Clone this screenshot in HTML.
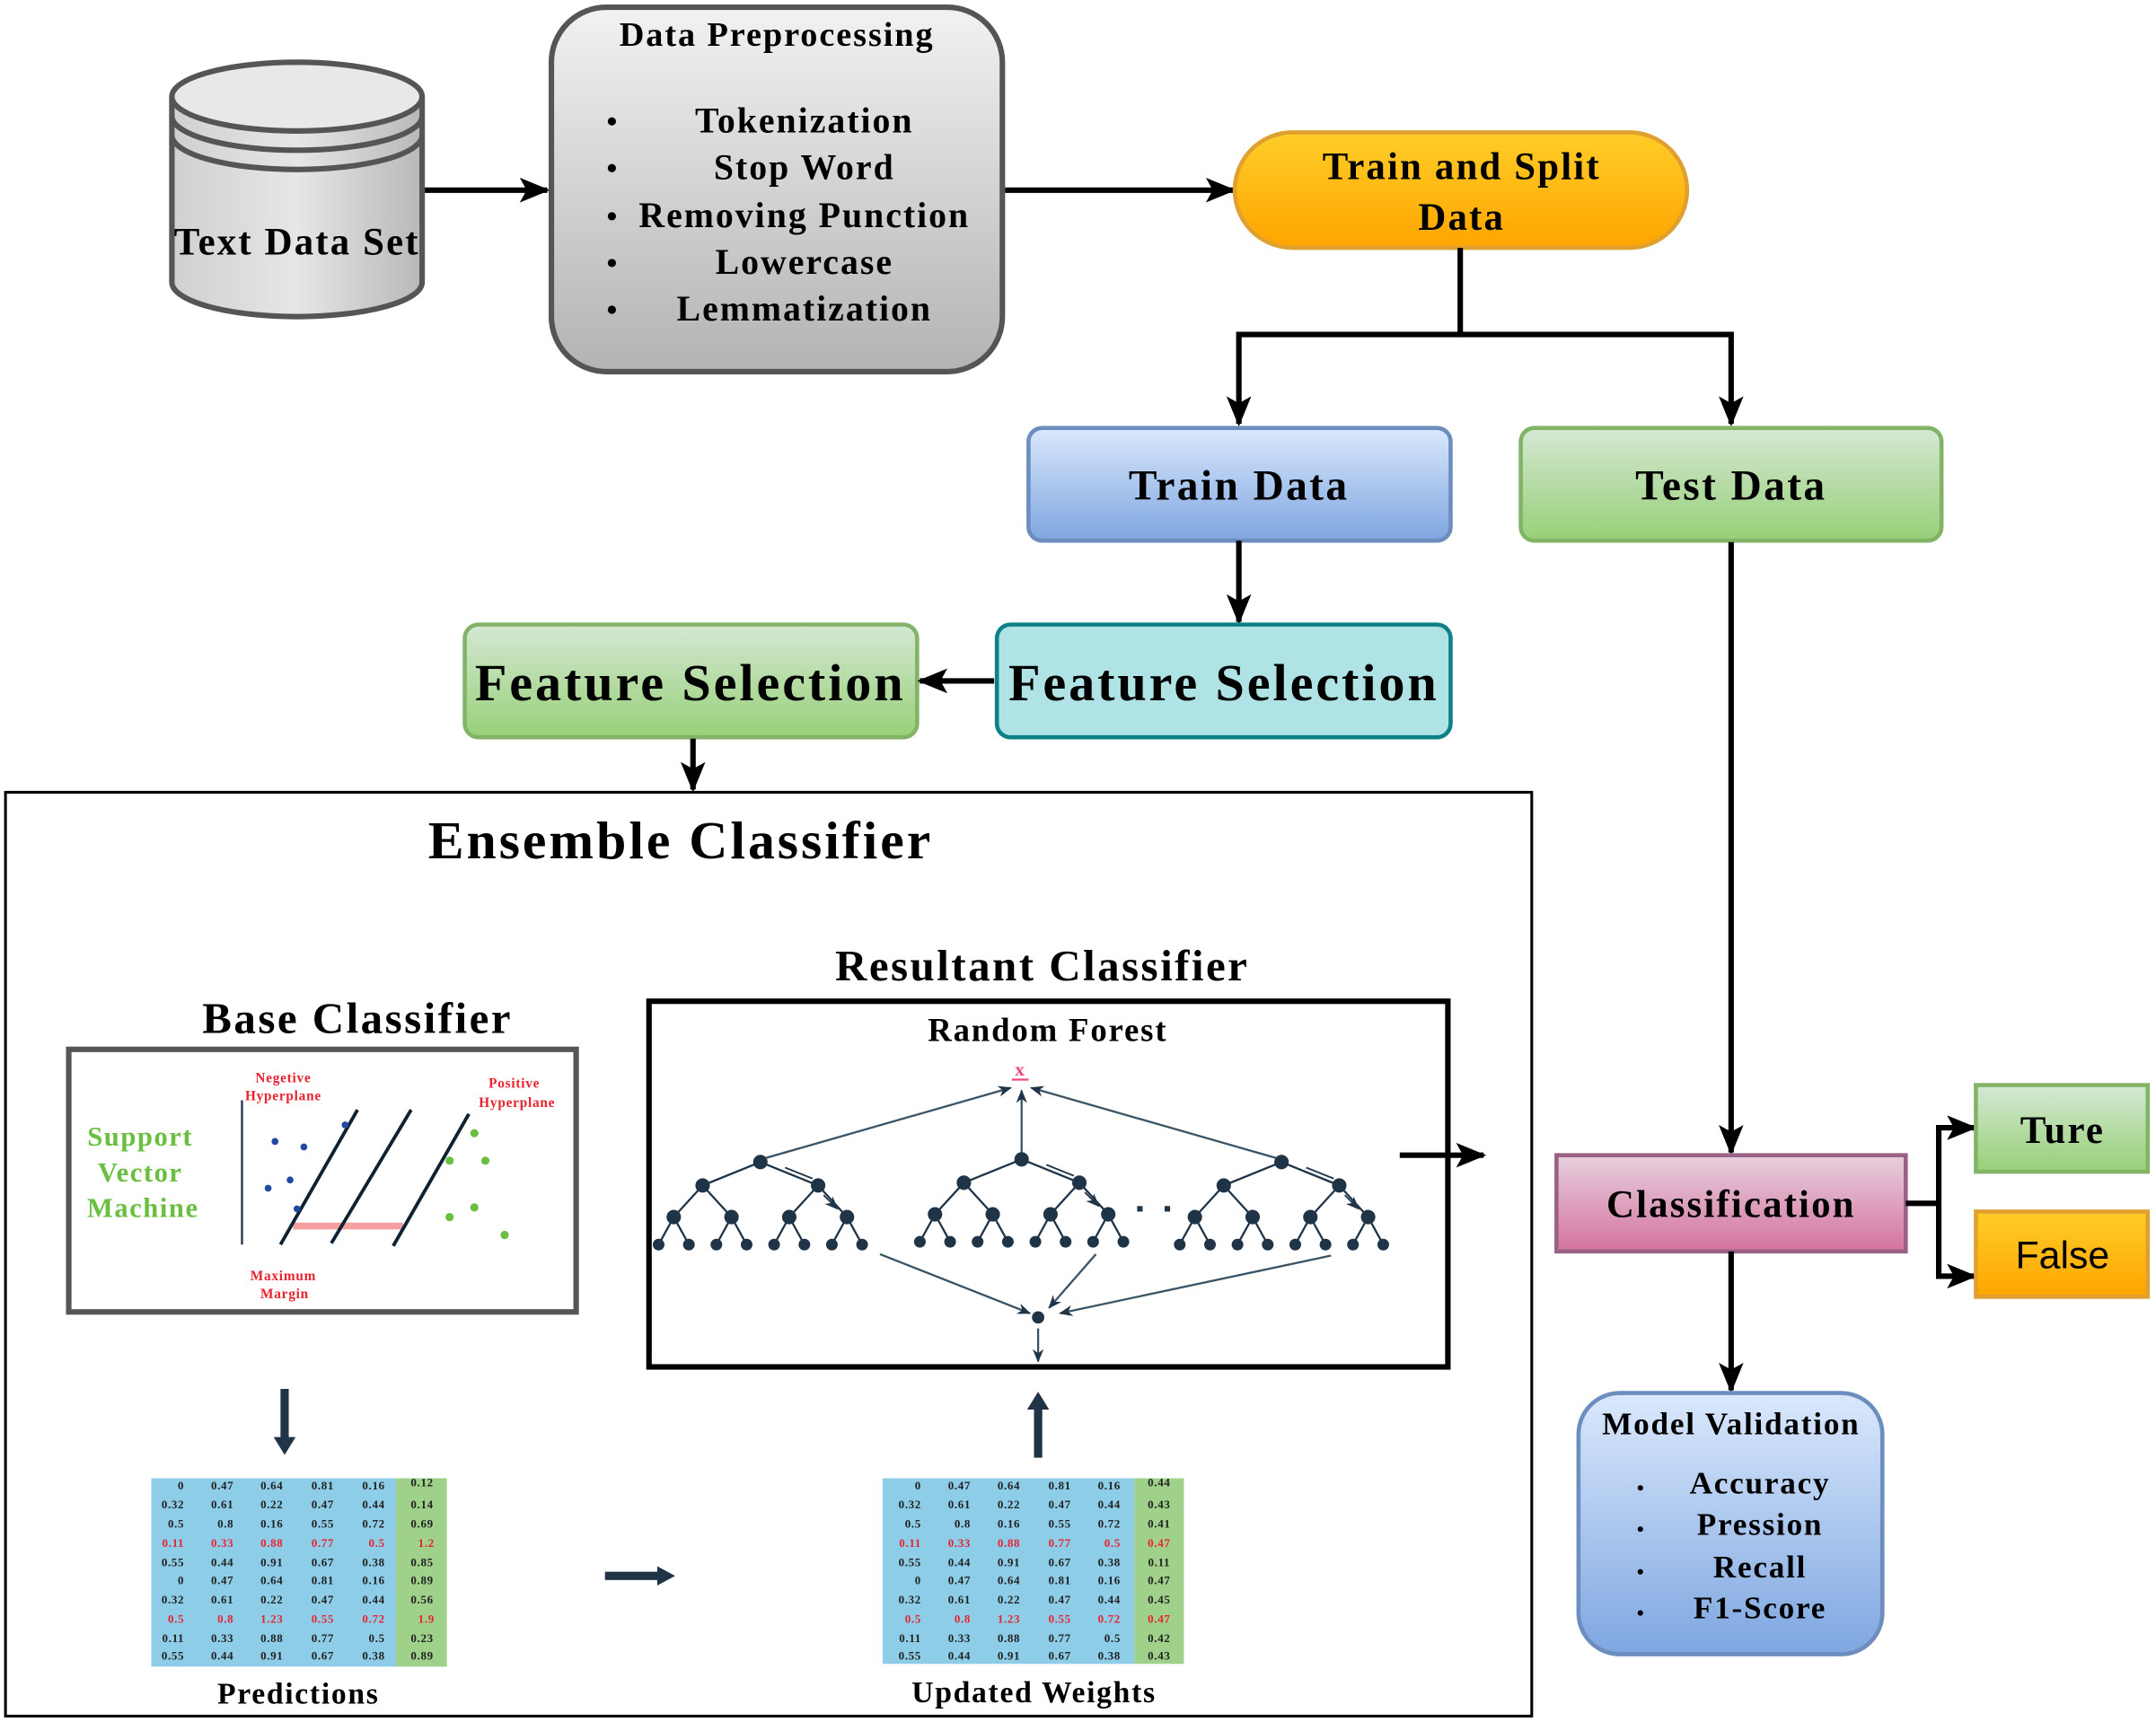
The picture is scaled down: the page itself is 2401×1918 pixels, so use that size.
<!DOCTYPE html>
<html><head><meta charset="utf-8"><style>
html,body{margin:0;padding:0;background:#fff}
svg{display:block}
text{font-family:"Liberation Serif",serif;font-weight:bold;letter-spacing:0.05em}
.t{font-family:"Liberation Sans",sans-serif;font-weight:normal;font-size:8.5px;text-anchor:end;fill:#222;letter-spacing:0}
.r{fill:#e8232f}
.c{text-anchor:middle}
</style></head><body>
<svg width="2401" height="1918" viewBox="0 0 1568 1252" xmlns="http://www.w3.org/2000/svg">
<defs>
<marker id="A" markerWidth="22" markerHeight="18" refX="20" refY="9" orient="auto" markerUnits="userSpaceOnUse"><path d="M0,0 L22,9 L0,18 L5,9 Z" fill="#000"/></marker>
<marker id="s" markerWidth="10" markerHeight="10" refX="9" refY="5" orient="auto" markerUnits="userSpaceOnUse"><path d="M0,1 L10,5 L0,9 L3,5 Z" fill="#1f3447"/></marker>
<linearGradient id="gray" x1="0" y1="0" x2="0" y2="1"><stop offset="0" stop-color="#f2f2f2"/><stop offset="1" stop-color="#b3b3b3"/></linearGradient>
<linearGradient id="cyl" x1="0" y1="0" x2="1" y2="0"><stop offset="0" stop-color="#d0d0d0"/><stop offset="0.5" stop-color="#e6e6e6"/><stop offset="1" stop-color="#b8b8b8"/></linearGradient>
<linearGradient id="org" x1="0" y1="0" x2="0" y2="1"><stop offset="0" stop-color="#ffcd28"/><stop offset="1" stop-color="#ffa500"/></linearGradient>
<linearGradient id="blue" x1="0" y1="0" x2="0" y2="1"><stop offset="0" stop-color="#dae8fc"/><stop offset="1" stop-color="#7ea6e0"/></linearGradient>
<linearGradient id="grn" x1="0" y1="0" x2="0" y2="1"><stop offset="0" stop-color="#d5e8d4"/><stop offset="1" stop-color="#97d077"/></linearGradient>
<linearGradient id="pink" x1="0" y1="0" x2="0" y2="1"><stop offset="0" stop-color="#e6d0de"/><stop offset="1" stop-color="#d5739d"/></linearGradient>
<g id="tree" stroke="#1f3447" stroke-width="1.5" fill="#1f3447">
<path d="M0,0 L-42,17 M0,0 L42,17 M-42,17 L-63,40 M-42,17 L-21,40 M42,17 L21,40 M42,17 L63,40 M-63,40 L-74,60 M-63,40 L-52,60 M-21,40 L-32,60 M-21,40 L-10,60 M21,40 L10,60 M21,40 L32,60 M63,40 L52,60 M63,40 L74,60" fill="none"/>
<circle r="4.5"/><circle cx="-42" cy="17" r="4.5"/><circle cx="42" cy="17" r="4.5"/>
<circle cx="-63" cy="40" r="4.5"/><circle cx="-21" cy="40" r="4.5"/><circle cx="21" cy="40" r="4.5"/><circle cx="63" cy="40" r="4.5"/>
<circle cx="-74" cy="60" r="3.5"/><circle cx="-52" cy="60" r="3.5"/><circle cx="-32" cy="60" r="3.5"/><circle cx="-10" cy="60" r="3.5"/><circle cx="10" cy="60" r="3.5"/><circle cx="32" cy="60" r="3.5"/><circle cx="52" cy="60" r="3.5"/><circle cx="74" cy="60" r="3.5"/>
<path d="M18,4 L38,12 M46,24 L56,34" fill="none" stroke-width="1.2" marker-end="url(#s)"/>
</g>
</defs>

<path d="M125,70 L125,205 A91,25 0 0 0 307,205 L307,70" fill="url(#cyl)" stroke="#555" stroke-width="4"/>
<ellipse cx="216" cy="70" rx="91" ry="25" fill="#e8e8e8" stroke="#555" stroke-width="4"/>
<path d="M125,84 A91,25 0 0 0 307,84 M125,98 A91,25 0 0 0 307,98" fill="none" stroke="#555" stroke-width="4"/>
<text x="216" y="185" font-size="28" text-anchor="middle">Text Data Set</text>
<line x1="309" y1="138" x2="398" y2="138" stroke="#000" stroke-width="4" marker-end="url(#A)"/>

<rect x="401" y="5" width="328" height="265" rx="40" fill="url(#gray)" stroke="#555" stroke-width="4"/>
<text x="565" y="33" font-size="25" text-anchor="middle">Data Preprocessing</text>
<g font-size="26" text-anchor="middle">
<text x="585" y="96">Tokenization</text><text x="585" y="130">Stop Word</text><text x="585" y="165">Removing Punction</text><text x="585" y="199">Lowercase</text><text x="585" y="233">Lemmatization</text>
</g>
<g fill="#000"><circle cx="445" cy="88" r="3"/><circle cx="445" cy="122" r="3"/><circle cx="445" cy="157" r="3"/><circle cx="445" cy="191" r="3"/><circle cx="445" cy="225" r="3"/></g>
<line x1="731" y1="138" x2="897" y2="138" stroke="#000" stroke-width="4" marker-end="url(#A)"/>

<rect x="898" y="96" width="329" height="84" rx="42" fill="url(#org)" stroke="#e0a030" stroke-width="3"/>
<text x="1063" y="130" font-size="28" text-anchor="middle">Train and Split</text>
<text x="1063" y="167" font-size="28" text-anchor="middle">Data</text>
<path d="M1062,180 L1062,243 M901,243 L1259,243" stroke="#000" stroke-width="4" fill="none"/>
<line x1="901" y1="241" x2="901" y2="308" stroke="#000" stroke-width="4" marker-end="url(#A)"/>
<line x1="1259" y1="241" x2="1259" y2="308" stroke="#000" stroke-width="4" marker-end="url(#A)"/>

<rect x="748" y="311" width="307" height="82" rx="10" fill="url(#blue)" stroke="#6c8ebf" stroke-width="3"/>
<text x="901" y="363" font-size="31" text-anchor="middle">Train Data</text>
<rect x="1106" y="311" width="306" height="82" rx="10" fill="url(#grn)" stroke="#82b366" stroke-width="3"/>
<text x="1259" y="363" font-size="31" text-anchor="middle">Test Data</text>

<line x1="901" y1="393" x2="901" y2="452" stroke="#000" stroke-width="4" marker-end="url(#A)"/>
<rect x="725" y="454" width="330" height="82" rx="10" fill="#b0e3e6" stroke="#0e8088" stroke-width="3"/>
<text x="890" y="509" font-size="38" text-anchor="middle">Feature Selection</text>
<rect x="338" y="454" width="329" height="82" rx="10" fill="url(#grn)" stroke="#82b366" stroke-width="3"/>
<text x="502" y="509" font-size="38" text-anchor="middle">Feature Selection</text>
<line x1="723" y1="495" x2="669" y2="495" stroke="#000" stroke-width="4" marker-end="url(#A)"/>
<line x1="504" y1="537" x2="504" y2="574" stroke="#000" stroke-width="4" marker-end="url(#A)"/>

<rect x="4" y="576" width="1110" height="672" fill="none" stroke="#000" stroke-width="2"/>
<text x="495" y="624" font-size="39" text-anchor="middle">Ensemble Classifier</text>
<text x="758" y="713" font-size="32" text-anchor="middle">Resultant Classifier</text>
<text x="260" y="751" font-size="32" text-anchor="middle">Base Classifier</text>

<rect x="50" y="763" width="369" height="191" fill="#fff" stroke="#555" stroke-width="4"/>
<g fill="#6abf40" font-size="20" text-anchor="middle"><text x="102" y="833">Support</text><text x="102" y="859">Vector</text><text x="104" y="885">Machine</text></g>
<g fill="#e8232f" font-size="10" text-anchor="middle"><text x="206" y="787">Negetive</text><text x="206" y="800">Hyperplane</text><text x="374" y="791">Positive</text><text x="376" y="805">Hyperplane</text><text x="206" y="931">Maximum</text><text x="207" y="944">Margin</text></g>
<line x1="176" y1="800" x2="176" y2="905" stroke="#1f3447" stroke-width="1.5"/>
<rect x="213" y="889" width="80" height="5" fill="#f4a0a0"/>
<path d="M204,905 L260,807 M241,904 L299,807 M286,906 L341,810" stroke="#0d2233" stroke-width="2.5" fill="none"/>
<g fill="#1f4aa0"><circle cx="200" cy="830" r="2.5"/><circle cx="221" cy="834" r="2.5"/><circle cx="211" cy="858" r="2.5"/><circle cx="195" cy="864" r="2.5"/><circle cx="216" cy="879" r="2.5"/><circle cx="251" cy="818" r="2.5"/></g>
<g fill="#6abf40"><circle cx="345" cy="824" r="3"/><circle cx="327" cy="844" r="3"/><circle cx="353" cy="844" r="3"/><circle cx="345" cy="878" r="3"/><circle cx="327" cy="885" r="3"/><circle cx="367" cy="898" r="3"/></g>

<rect x="472" y="728" width="581" height="266" fill="#fff" stroke="#000" stroke-width="4"/>
<text x="762" y="757" font-size="24" text-anchor="middle">Random Forest</text>
<text x="742" y="782" font-size="14" fill="#f04878" text-anchor="middle" font-family="Liberation Sans,sans-serif">x</text>
<line x1="736" y1="785" x2="748" y2="785" stroke="#f04878" stroke-width="1.5"/>
<use href="#tree" x="553" y="845"/>
<use href="#tree" x="743" y="843"/>
<use href="#tree" x="932" y="845"/>
<g fill="#1f3447"><rect x="827" y="877" width="4" height="4"/><rect x="847" y="877" width="4" height="4"/></g>
<g stroke="#3a5466" stroke-width="1.5" fill="none" marker-end="url(#s)">
<line x1="557" y1="842" x2="735" y2="791"/>
<line x1="743" y1="838" x2="743" y2="793"/>
<line x1="928" y1="842" x2="750" y2="791"/>
<line x1="640" y1="912" x2="749" y2="955"/>
<line x1="797" y1="912" x2="763" y2="951"/>
<line x1="968" y1="913" x2="771" y2="955"/>
<line x1="755" y1="966" x2="755" y2="990"/>
</g>
<circle cx="755" cy="958" r="4.5" fill="#1f3447"/>
<line x1="1018" y1="840" x2="1079" y2="840" stroke="#000" stroke-width="4" marker-end="url(#A)"/>

<g fill="#1f3447">
<path d="M204,1010 L210,1010 L210,1045 L215,1045 L207,1058 L199,1045 L204,1045 Z"/>
<path d="M440,1143 L478,1143 L478,1139 L491,1146 L478,1153 L478,1149 L440,1149 Z"/>
<path d="M752,1060 L758,1060 L758,1025 L763,1025 L755,1012 L747,1025 L752,1025 Z"/>
</g>

<rect x="110" y="1075" width="178" height="137" fill="#8ecde8"/><rect x="288" y="1075" width="37" height="137" fill="#9fd18a"/>
<g class="t">
<text x="134" y="1083">0</text><text x="170" y="1083">0.47</text><text x="206" y="1083">0.64</text><text x="243" y="1083">0.81</text><text x="280" y="1083">0.16</text><text x="307" y="1081" class="c">0.12</text>
<text x="134" y="1097">0.32</text><text x="170" y="1097">0.61</text><text x="206" y="1097">0.22</text><text x="243" y="1097">0.47</text><text x="280" y="1097">0.44</text><text x="307" y="1097" class="c">0.14</text>
<text x="134" y="1111">0.5</text><text x="170" y="1111">0.8</text><text x="206" y="1111">0.16</text><text x="243" y="1111">0.55</text><text x="280" y="1111">0.72</text><text x="307" y="1111" class="c">0.69</text>
<text x="134" y="1125" class="r">0.11</text><text x="170" y="1125" class="r">0.33</text><text x="206" y="1125" class="r">0.88</text><text x="243" y="1125" class="r">0.77</text><text x="280" y="1125" class="r">0.5</text><text x="316" y="1125" class="r">1.2</text>
<text x="134" y="1139">0.55</text><text x="170" y="1139">0.44</text><text x="206" y="1139">0.91</text><text x="243" y="1139">0.67</text><text x="280" y="1139">0.38</text><text x="307" y="1139" class="c">0.85</text>
<text x="134" y="1152">0</text><text x="170" y="1152">0.47</text><text x="206" y="1152">0.64</text><text x="243" y="1152">0.81</text><text x="280" y="1152">0.16</text><text x="307" y="1152" class="c">0.89</text>
<text x="134" y="1166">0.32</text><text x="170" y="1166">0.61</text><text x="206" y="1166">0.22</text><text x="243" y="1166">0.47</text><text x="280" y="1166">0.44</text><text x="307" y="1166" class="c">0.56</text>
<text x="134" y="1180" class="r">0.5</text><text x="170" y="1180" class="r">0.8</text><text x="206" y="1180" class="r">1.23</text><text x="243" y="1180" class="r">0.55</text><text x="280" y="1180" class="r">0.72</text><text x="316" y="1180" class="r">1.9</text>
<text x="134" y="1194">0.11</text><text x="170" y="1194">0.33</text><text x="206" y="1194">0.88</text><text x="243" y="1194">0.77</text><text x="280" y="1194">0.5</text><text x="307" y="1194" class="c">0.23</text>
<text x="134" y="1207">0.55</text><text x="170" y="1207">0.44</text><text x="206" y="1207">0.91</text><text x="243" y="1207">0.67</text><text x="280" y="1207">0.38</text><text x="307" y="1207" class="c">0.89</text>
</g>
<text x="217" y="1239" font-size="22" text-anchor="middle">Predictions</text>

<rect x="642" y="1075" width="183" height="135" fill="#8ecde8"/><rect x="825" y="1075" width="36" height="135" fill="#9fd18a"/>
<g class="t">
<text x="670" y="1083">0</text><text x="706" y="1083">0.47</text><text x="742" y="1083">0.64</text><text x="779" y="1083">0.81</text><text x="815" y="1083">0.16</text><text x="843" y="1081" class="c">0.44</text>
<text x="670" y="1097">0.32</text><text x="706" y="1097">0.61</text><text x="742" y="1097">0.22</text><text x="779" y="1097">0.47</text><text x="815" y="1097">0.44</text><text x="843" y="1097" class="c">0.43</text>
<text x="670" y="1111">0.5</text><text x="706" y="1111">0.8</text><text x="742" y="1111">0.16</text><text x="779" y="1111">0.55</text><text x="815" y="1111">0.72</text><text x="843" y="1111" class="c">0.41</text>
<text x="670" y="1125" class="r">0.11</text><text x="706" y="1125" class="r">0.33</text><text x="742" y="1125" class="r">0.88</text><text x="779" y="1125" class="r">0.77</text><text x="815" y="1125" class="r">0.5</text><text x="843" y="1125" class="c r">0.47</text>
<text x="670" y="1139">0.55</text><text x="706" y="1139">0.44</text><text x="742" y="1139">0.91</text><text x="779" y="1139">0.67</text><text x="815" y="1139">0.38</text><text x="843" y="1139" class="c">0.11</text>
<text x="670" y="1152">0</text><text x="706" y="1152">0.47</text><text x="742" y="1152">0.64</text><text x="779" y="1152">0.81</text><text x="815" y="1152">0.16</text><text x="843" y="1152" class="c">0.47</text>
<text x="670" y="1166">0.32</text><text x="706" y="1166">0.61</text><text x="742" y="1166">0.22</text><text x="779" y="1166">0.47</text><text x="815" y="1166">0.44</text><text x="843" y="1166" class="c">0.45</text>
<text x="670" y="1180" class="r">0.5</text><text x="706" y="1180" class="r">0.8</text><text x="742" y="1180" class="r">1.23</text><text x="779" y="1180" class="r">0.55</text><text x="815" y="1180" class="r">0.72</text><text x="843" y="1180" class="c r">0.47</text>
<text x="670" y="1194">0.11</text><text x="706" y="1194">0.33</text><text x="742" y="1194">0.88</text><text x="779" y="1194">0.77</text><text x="815" y="1194">0.5</text><text x="843" y="1194" class="c">0.42</text>
<text x="670" y="1207">0.55</text><text x="706" y="1207">0.44</text><text x="742" y="1207">0.91</text><text x="779" y="1207">0.67</text><text x="815" y="1207">0.38</text><text x="843" y="1207" class="c">0.43</text>
</g>
<text x="752" y="1238" font-size="22" text-anchor="middle">Updated Weights</text>

<line x1="1259" y1="394" x2="1259" y2="838" stroke="#000" stroke-width="4" marker-end="url(#A)"/>
<rect x="1132" y="840" width="254" height="70" fill="url(#pink)" stroke="#996185" stroke-width="3"/>
<text x="1259" y="885" font-size="28" text-anchor="middle">Classification</text>
<path d="M1386,875 L1410,875 M1410,820 L1410,928" stroke="#000" stroke-width="4" fill="none"/>
<line x1="1408" y1="820" x2="1436" y2="820" stroke="#000" stroke-width="4" marker-end="url(#A)"/>
<line x1="1408" y1="928" x2="1436" y2="928" stroke="#000" stroke-width="4" marker-end="url(#A)"/>
<rect x="1437" y="789" width="125" height="63" fill="url(#grn)" stroke="#82b366" stroke-width="3"/>
<text x="1500" y="831" font-size="28" text-anchor="middle">Ture</text>
<rect x="1437" y="881" width="125" height="62" fill="url(#org)" stroke="#e0a030" stroke-width="3"/>
<text x="1500" y="922" font-size="28" text-anchor="middle" style="font-family:'Liberation Sans',sans-serif;font-weight:normal;letter-spacing:0">False</text>
<line x1="1259" y1="910" x2="1259" y2="1011" stroke="#000" stroke-width="4" marker-end="url(#A)"/>
<rect x="1148" y="1013" width="221" height="190" rx="30" fill="url(#blue)" stroke="#6c8ebf" stroke-width="3"/>
<text x="1259" y="1043" font-size="23" text-anchor="middle">Model Validation</text>
<g font-size="23" text-anchor="middle"><text x="1280" y="1086">Accuracy</text><text x="1280" y="1116">Pression</text><text x="1280" y="1147">Recall</text><text x="1280" y="1177">F1-Score</text></g>
<g fill="#000"><circle cx="1193" cy="1082" r="2"/><circle cx="1193" cy="1112" r="2"/><circle cx="1193" cy="1143" r="2"/><circle cx="1193" cy="1173" r="2"/></g>
</svg>
</body></html>
